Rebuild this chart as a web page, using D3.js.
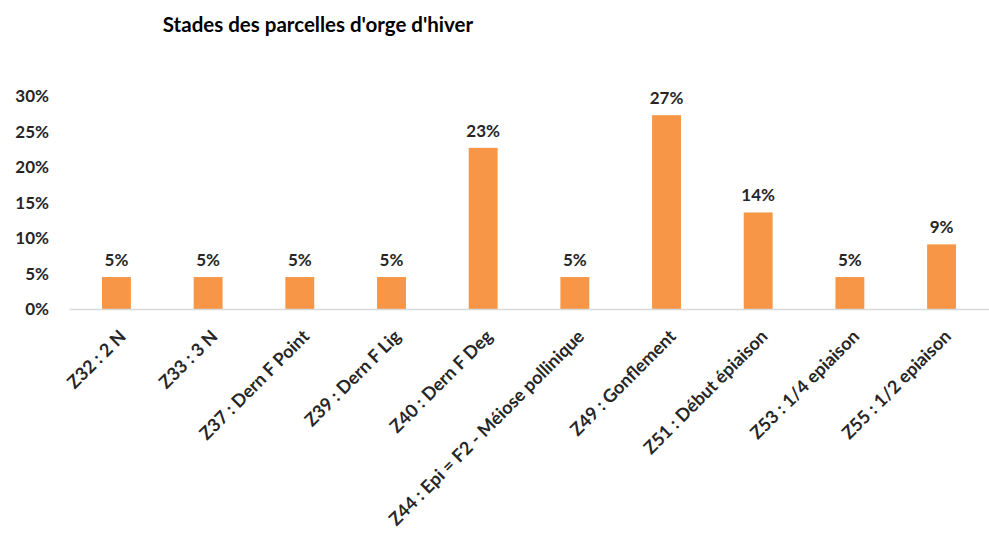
<!DOCTYPE html>
<html lang="fr">
<head>
  <meta charset="UTF-8">
  <title>Stades des parcelles d'orge d'hiver</title>
  <script src="https://d3js.org/d3.v7.min.js"></script>
  <style>
    body { margin: 0; background: #fff; font-family: Lato, "Open Sans", sans-serif; }
    svg { display: block; }
    .axis text { fill: #262626; font-weight: bold; font-size: 17px; font-family: Lato, sans-serif; }
  </style>
</head>
<body>
<svg width="989" height="544"></svg>

<script>
  const categories = [
    "Z32 : 2 N", "Z33 : 3 N", "Z37 : Dern F Point", "Z39 : Dern F Lig",
    "Z40 : Dern F Deg", "Z44 : Epi = F2 - Méiose pollinique", "Z49 : Gonflement",
    "Z51 : Début épiaison", "Z53 : 1/4 epiaison", "Z55 : 1/2 epiaison"
  ];
  const values = [0.045, 0.045, 0.045, 0.045, 0.227, 0.045, 0.273, 0.136, 0.045, 0.091];
  const yTicks = [0, 0.05, 0.10, 0.15, 0.20, 0.25, 0.30];

  const svg = d3.select("svg"),
        margin = {top: 96, right: 0, bottom: 235, left: 69},
        width = +svg.attr("width") - margin.left - margin.right,
        height = +svg.attr("height") - margin.top - margin.bottom,
        g = svg.append("g").attr("transform", `translate(${margin.left},${margin.top})`);

  const x = d3.scaleBand()
              .domain(categories)
              .range([0, width])
              .paddingInner(0.685)
              .paddingOuter(0.36);

  const y = d3.scaleLinear()
              .domain([0, 0.30])
              .range([height, 0]);

  const fmt = d3.format(".0%");

  // title
  svg.append("text")
    .attr("x", 318)
    .attr("y", 32)
    .attr("text-anchor", "middle")
    .style("font-size", "20.5px")
    .style("font-weight", "bold")
    .style("fill", "#000")
    .text("Stades des parcelles d'orge d'hiver");

  // bars
  g.selectAll("rect.bar")
    .data(values)
    .join("rect")
      .attr("class", "bar")
      .attr("x", (d, i) => x(categories[i]))
      .attr("y", d => y(d))
      .attr("width", x.bandwidth())
      .attr("height", d => height - y(d))
      .attr("fill", "#F79646");

  // data labels
  g.selectAll("text.lbl")
    .data(values)
    .join("text")
      .attr("class", "lbl")
      .attr("x", (d, i) => x(categories[i]) + x.bandwidth() / 2)
      .attr("y", d => y(d) - 11)
      .attr("text-anchor", "middle")
      .style("font-size", "17px")
      .style("font-weight", "bold")
      .style("fill", "#262626")
      .text(d => fmt(d));

  // y-axis
  const yAxis = g.append("g")
    .attr("class", "axis")
    .call(d3.axisLeft(y).tickValues(yTicks).tickFormat(fmt).tickSize(0).tickPadding(20));
  yAxis.select(".domain").remove();
  yAxis.selectAll("text").attr("dy", "0.35em");

  // x-axis
  const xAxis = g.append("g")
    .attr("class", "axis")
    .attr("transform", `translate(0,${height})`)
    .call(d3.axisBottom(x).tickSize(0).tickSizeOuter(0));
  xAxis.select(".domain").attr("stroke", "#d9d9d9").attr("stroke-width", 1.5);
  xAxis.selectAll("text")
    .style("font-size", "18px")
    .attr("text-anchor", "end")
    .attr("dy", "0.35em")
    .attr("transform", "translate(4,22) rotate(-45)");
</script>
</body>
</html>
